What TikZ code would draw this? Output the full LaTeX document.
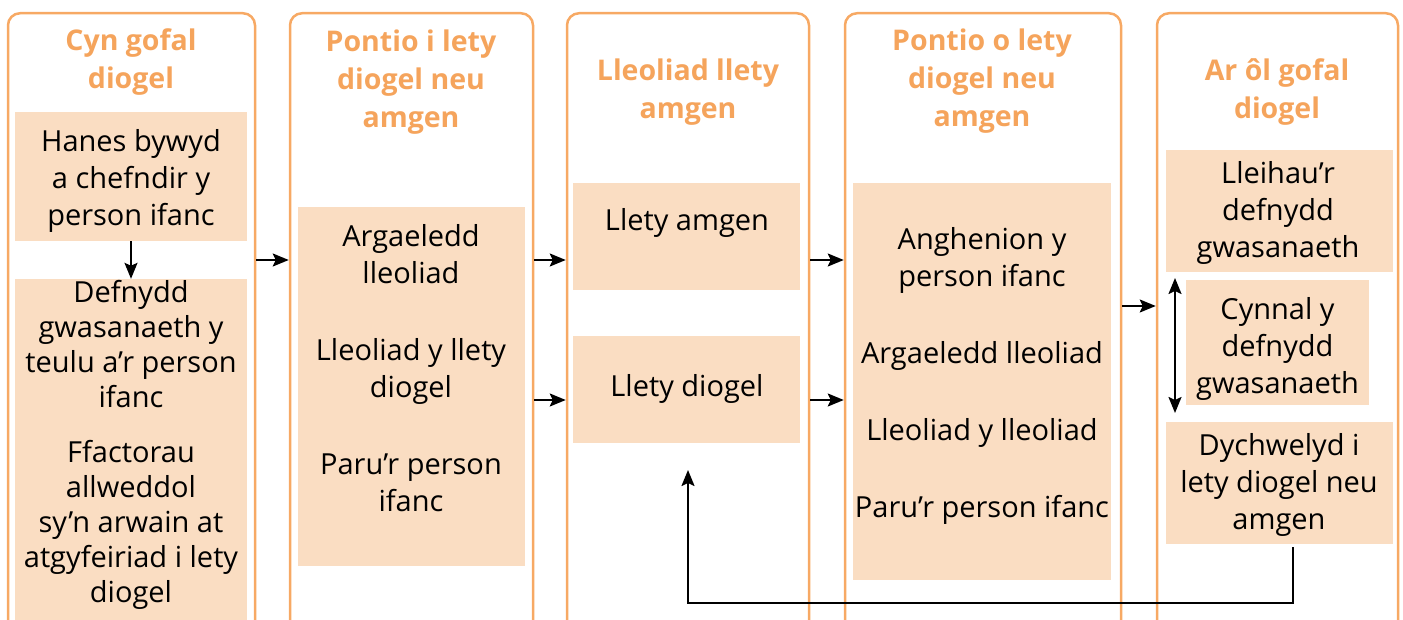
\documentclass[tikz,border=0pt]{standalone}
\usepackage{fontspec}
\setmainfont{Open Sans}
\usepackage{tikz}
\usetikzlibrary{arrows.meta}

\definecolor{frameorange}{HTML}{F7A964}
\definecolor{headorange}{HTML}{F5A45C}
\definecolor{boxpeach}{HTML}{FADDC2}

\begin{document}
\begin{tikzpicture}[x=1pt, y=-1pt]
    \tikzset{column/.style = {shape=rectangle, draw=frameorange, line width=2.5pt, rounded corners=12pt, minimum height=700pt, anchor=north}}
    \tikzset{box/.style = {shape=rectangle, fill=boxpeach, inner sep=0pt}}
    \tikzset{txt/.style = {align=center, inner sep=0pt, font=\fontsize{29}{37}\selectfont}}
    \tikzset{head/.style = {align=center, inner sep=0pt, text=headorange, font=\bfseries\fontsize{28.5}{38}\selectfont}}
    \tikzset{conn/.style = {draw, line width=2pt, ->, >={Stealth[length=16pt, width=13pt, inset=3pt]}}}

    \useasboundingbox (0,0) rectangle (1403,620);
    \clip (0,0) rectangle (1403,620);

    % columns
    \node[column, minimum width=247pt] (col1) at (131.5,12) {};
    \node[column, minimum width=243pt] (col2) at (411.5,12) {};
    \node[column, minimum width=242pt] (col3) at (688,12) {};
    \node[column, minimum width=276pt] (col4) at (983,12) {};
    \node[column, minimum width=241pt] (col5) at (1277.5,12) {};

    % headings
    \node[head] (h1) at (131,62) {Cyn gofal\\diogel};
    \node[head] (h2) at (411,82) {Pontio i lety\\diogel neu\\amgen};
    \node[head] (h3) at (688,92) {Lleoliad llety\\amgen};
    \node[head] (h4) at (982,81) {Pontio o lety\\diogel neu\\amgen};
    \node[head] (h5) at (1277,92) {Ar ôl gofal\\diogel};

    % boxes
    \node[box, minimum width=232pt, minimum height=129pt] (b1a) at (131,176.5) {};
    \node[box, minimum width=232pt, minimum height=381pt] (b1b) at (131,469.5) {};
    \node[box, minimum width=227pt, minimum height=359pt] (b2) at (411.5,386.5) {};
    \node[box, minimum width=227pt, minimum height=107pt] (b3a) at (686.5,236.5) {};
    \node[box, minimum width=227pt, minimum height=107pt] (b3b) at (686.5,389.5) {};
    \node[box, minimum width=258pt, minimum height=397pt] (b4) at (982,381.5) {};
    \node[box, minimum width=227pt, minimum height=122pt] (b5a) at (1279.5,211) {};
    \node[box, minimum width=183pt, minimum height=125pt] (b5b) at (1277.5,342.5) {};
    \node[box, minimum width=227pt, minimum height=122pt] (b5c) at (1279.5,483) {};

    % texts
    \node[txt] (t1a) at (131,181) {Hanes bywyd\\a chefndir y\\person ifanc};
    \node[txt, font=\fontsize{29}{35}\selectfont] (t1b) at (131,445) {Defnydd\\gwasanaeth y\\teulu a’r person\\ifanc\\[20pt]Ffactorau\\allweddol\\sy’n arwain at\\atgyfeiriad i lety\\diogel};
    \node[txt] (t2) at (411,368) {Argaeledd\\lleoliad\\[40pt]Lleoliad y llety\\diogel\\[40pt]Paru’r person\\ifanc};
    \node[txt] (t3a) at (687,223) {Llety amgen};
    \node[txt] (t3b) at (687,389) {Llety diogel};
    \node[txt] (t4) at (982,375.5) {Anghenion y\\person ifanc\\[40pt]Argaeledd lleoliad\\[40pt]Lleoliad y lleoliad\\[40pt]Paru’r person ifanc};
    \node[txt] (t5a) at (1278,213) {Lleihau’r\\defnydd\\gwasanaeth};
    \node[txt] (t5b) at (1277.5,349) {Cynnal y\\defnydd\\gwasanaeth};
    \node[txt] (t5c) at (1279,485) {Dychwelyd i\\lety diogel neu\\amgen};

    % free ends
    \coordinate (dtop) at (1175,278);
    \coordinate (dbot) at (1175,413);
    \coordinate (fbstart) at (1293,547);
    \coordinate (fbcorner) at (688,603);
    \coordinate (fbend) at (688,470);

    % connectors
    \draw[conn] (b1a) -- (b1b);
    \draw[conn] (col1.east |- 0,260) -- (col2.west |- 0,260);
    \draw[conn] (col2.east |- 0,260) -- (col3.west |- 0,260);
    \draw[conn] (col2.east |- 0,400) -- (col3.west |- 0,400);
    \draw[conn] (col3.east |- 0,260) -- (col4.west |- 0,260);
    \draw[conn] (col3.east |- 0,400) -- (col4.west |- 0,400);
    \draw[conn] (col4.east |- 0,306) -- (col5.west |- 0,306);
    \draw[conn, <->] (dtop) -- (dbot);
    \draw[conn] (fbstart) |- (fbcorner) -- (fbend);
\end{tikzpicture}
\end{document}
